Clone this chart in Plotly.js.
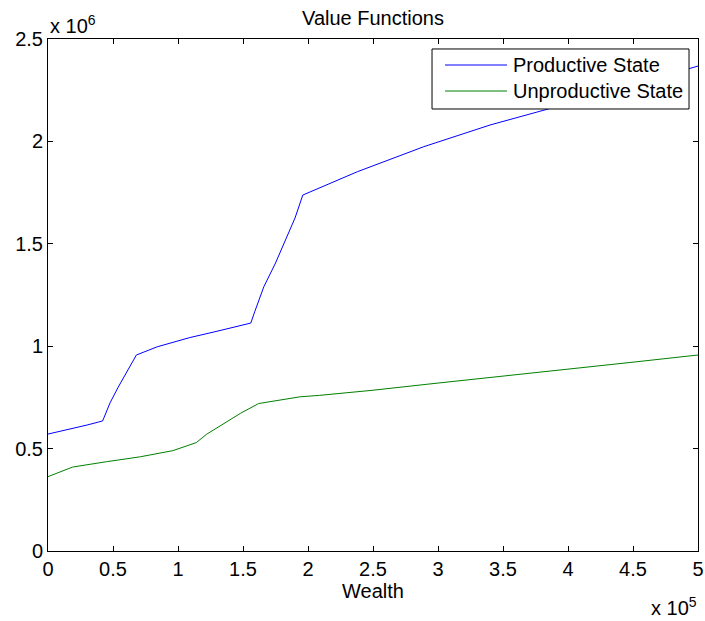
<!DOCTYPE html>
<html>
<head>
<meta charset="utf-8">
<script src="https://cdn.plot.ly/plotly-3.0.1.min.js"></script>
<style>html,body{margin:0;padding:0;background:#fff;}#chart{width:705px;height:621px;}</style>
</head>
<body>
<div id="chart"></div>
<script>
// Wealth values (actual units)
const wealthProd = [0, 10000, 20000, 30000, 39000, 42000, 43000, 47700, 54000, 60000, 68000, 84000, 109000, 130000, 155000, 156000, 159000, 166000, 175000, 184000, 190000, 196000, 238000, 289000, 340000, 384000, 420000, 460000, 500000];
const valueProd  = [571000, 585000, 600000, 615000, 630000, 635000, 650000, 723000, 800000, 869000, 957000, 997000, 1042000, 1073000, 1108000, 1113000, 1168000, 1290000, 1406000, 1535000, 1626000, 1738000, 1852000, 1974000, 2080000, 2157000, 2220000, 2292000, 2368000];

const wealthUnprod = [0, 19000, 45000, 71000, 96000, 114000, 122000, 148000, 162000, 194000, 209000, 250000, 300000, 348000, 400000, 450000, 500000];
const valueUnprod  = [363000, 410000, 436000, 460000, 490000, 529000, 570000, 672000, 720000, 753000, 760000, 785000, 820000, 851000, 888000, 922000, 957000];

const seriesNames = ['Productive State', 'Unproductive State'];
const seriesColors = ['#0000ff', '#008000'];

const xTicks = [0, 50000, 100000, 150000, 200000, 250000, 300000, 350000, 400000, 450000, 500000];
const xTickText = ['0', '0.5', '1', '1.5', '2', '2.5', '3', '3.5', '4', '4.5', '5'];
const yTicks = [0, 500000, 1000000, 1500000, 2000000, 2500000];
const yTickText = ['0', '0.5', '1', '1.5', '2', '2.5'];

const FS = 20;
const font = {family: 'Liberation Sans, Arial, sans-serif', color: '#000', size: FS};

const traces = [
  {x: wealthProd, y: valueProd, mode: 'lines', name: seriesNames[0], line: {color: seriesColors[0], width: 1}},
  {x: wealthUnprod, y: valueUnprod, mode: 'lines', name: seriesNames[1], line: {color: seriesColors[1], width: 1}}
];

const axisCommon = {
  showgrid: false, zeroline: false, showline: true, mirror: 'allticks',
  linecolor: '#000', linewidth: 1, ticks: 'inside', ticklen: 5, tickcolor: '#000',
  tickfont: font
};

// manual MATLAB-style legend (paper coordinates)
const legBox = {x0: 0.5908, x1: 0.9862, y0: 0.8633, y1: 0.9805};
const legRowsY = [0.9492, 0.8984];
const legLineX = [0.6108, 0.7062];
const legTextX = 0.7154;

const shapes = [
  {type: 'rect', xref: 'paper', yref: 'paper', x0: legBox.x0, x1: legBox.x1, y0: legBox.y0, y1: legBox.y1,
   line: {color: '#000', width: 1}, fillcolor: '#fff', layer: 'above'}
];
const annotations = [
  {xref: 'paper', yref: 'paper', x: 0, y: 1, xanchor: 'left', yanchor: 'bottom', yshift: 0,
   text: 'x 10<sup>6</sup>', showarrow: false, font: font},
  {xref: 'paper', yref: 'paper', x: 1, y: 0, xanchor: 'right', yanchor: 'top', yshift: -41, xshift: 1,
   text: 'x 10<sup>5</sup>', showarrow: false, font: font}
];
seriesNames.forEach((nm, i) => {
  shapes.push({type: 'line', xref: 'paper', yref: 'paper', x0: legLineX[0], x1: legLineX[1], y0: legRowsY[i], y1: legRowsY[i],
    line: {color: seriesColors[i], width: 1}, layer: 'above'});
  annotations.push({xref: 'paper', yref: 'paper', x: legTextX, y: legRowsY[i], xanchor: 'left', yanchor: 'middle',
    text: nm, showarrow: false, font: font, xshift: -2});
});

const layout = {
  width: 705, height: 621,
  margin: {l: 48, r: 7, t: 39, b: 70},
  paper_bgcolor: '#fff', plot_bgcolor: '#fff',
  title: {text: 'Value Functions', font: font, xref: 'paper', x: 0.5, xanchor: 'center', y: 0.971, yanchor: 'middle'},
  xaxis: Object.assign({}, axisCommon, {
    range: [0, 500000], tickvals: xTicks, ticktext: xTickText,
    title: {text: 'Wealth', font: font, standoff: 1}
  }),
  yaxis: Object.assign({}, axisCommon, {
    range: [0, 2500000], tickvals: yTicks, ticktext: yTickText
  }),
  showlegend: false,
  shapes: shapes,
  annotations: annotations
};

Plotly.newPlot('chart', traces, layout, {displayModeBar: false, staticPlot: true});
</script>
</body>
</html>
